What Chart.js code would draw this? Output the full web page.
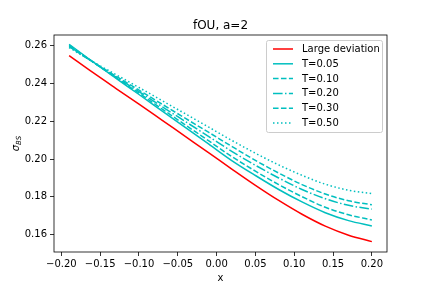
<!DOCTYPE html>
<html>
<head>
<meta charset="utf-8">
<script src="https://cdn.jsdelivr.net/npm/chart.js@4"></script>
<style>
  html, body { margin: 0; padding: 0; background: #fff; }
  #wrap { width: 432px; height: 288px; }
</style>
</head>
<body>
<div id="wrap"><canvas id="chart" width="432" height="288"></canvas></div>
<script>
// x grid (log-moneyness) and implied vol curves
const xValues = [-0.19, -0.16, -0.13, -0.10, -0.07, -0.04, -0.01, 0.02, 0.05, 0.08, 0.11, 0.14, 0.17, 0.20];
const largeDeviation = [0.2548, 0.2460, 0.2375, 0.2291, 0.2205, 0.2119, 0.2033, 0.1946, 0.1861, 0.1781, 0.1708, 0.1645, 0.1597, 0.1563];
const volT005 = [0.2608, 0.2517, 0.2429, 0.2342, 0.2254, 0.2166, 0.2079, 0.1991, 0.1913, 0.1839, 0.1773, 0.1716, 0.1674, 0.1646];
const volT010 = [0.2603, 0.2516, 0.2432, 0.2349, 0.2264, 0.2180, 0.2096, 0.2012, 0.1936, 0.1865, 0.1801, 0.1745, 0.1705, 0.1678];
const volT020 = [0.2598, 0.2515, 0.2435, 0.2357, 0.2277, 0.2198, 0.2119, 0.2040, 0.1967, 0.1900, 0.1839, 0.1790, 0.1755, 0.1735];
const volT030 = [0.2595, 0.2516, 0.2440, 0.2365, 0.2290, 0.2215, 0.2141, 0.2066, 0.1993, 0.1926, 0.1865, 0.1815, 0.1779, 0.1758];
const volT050 = [0.2590, 0.2517, 0.2448, 0.2379, 0.2309, 0.2239, 0.2169, 0.2098, 0.2031, 0.1969, 0.1914, 0.1867, 0.1835, 0.1817];

const xTickValues = [-0.20, -0.15, -0.10, -0.05, 0.00, 0.05, 0.10, 0.15, 0.20];
const yTickValues = [0.16, 0.18, 0.20, 0.22, 0.24, 0.26];

const FONT = 'DejaVu Sans';

function toPoints(ys) {
    return xValues.map((x, i) => ({ x: x, y: ys[i] }));
}

function fmt(v) {
    const s = Math.abs(v).toFixed(2);
    return v < -1e-9 ? '\u2212' + s : s;
}

function series(label, ys, color, dash) {
    return {
        label: label,
        data: toPoints(ys),
        borderColor: color,
        backgroundColor: color,
        borderWidth: 1.5,
        borderDash: dash,
        pointRadius: 0,
        cubicInterpolationMode: 'monotone',
        fill: false
    };
}

// axes box, title, y label with subscript, legend in upper right
const decorations = {
    id: 'decorations',
    afterDraw(chart) {
        const ctx = chart.ctx;
        const a = chart.chartArea;
        ctx.save();
        ctx.strokeStyle = '#000';
        ctx.lineWidth = 0.8;
        ctx.strokeRect(a.left, a.top, a.right - a.left, a.bottom - a.top);

        ctx.fillStyle = '#000';
        ctx.font = '12px "' + FONT + '"';
        ctx.textAlign = 'center';
        ctx.textBaseline = 'alphabetic';
        ctx.fillText('fOU, a=2', (a.left + a.right) / 2, a.top - 6);

        // y label: sigma with subscript BS, rotated
        ctx.save();
        ctx.translate(19, (a.top + a.bottom) / 2);
        ctx.rotate(-Math.PI / 2);
        ctx.font = 'italic 10px "' + FONT + '"';
        const w1 = ctx.measureText('\u03c3').width;
        ctx.font = 'italic 7px "' + FONT + '"';
        const w2 = ctx.measureText('BS').width;
        const x0 = -(w1 + w2) / 2;
        ctx.textAlign = 'left';
        ctx.font = 'italic 10px "' + FONT + '"';
        ctx.fillText('\u03c3', x0, 0);
        ctx.font = 'italic 7px "' + FONT + '"';
        ctx.fillText('BS', x0 + w1, 2);
        ctx.restore();

        // legend
        const bx = 266, by = 40, bw = 116, bh = 92;
        ctx.fillStyle = 'rgba(255,255,255,0.8)';
        ctx.strokeStyle = '#cccccc';
        ctx.lineWidth = 1;
        ctx.beginPath();
        ctx.roundRect(bx + 0.5, by + 0.5, bw, bh, 2);
        ctx.fill();
        ctx.stroke();
        ctx.font = '10px "' + FONT + '"';
        ctx.textBaseline = 'middle';
        ctx.textAlign = 'left';
        chart.data.datasets.forEach((ds, i) => {
            const y = 49 + i * 14.8;
            ctx.strokeStyle = ds.borderColor;
            ctx.lineWidth = ds.borderWidth;
            ctx.setLineDash(ds.borderDash || []);
            ctx.beginPath();
            ctx.moveTo(273, y);
            ctx.lineTo(293, y);
            ctx.stroke();
            ctx.setLineDash([]);
            ctx.fillStyle = '#000';
            ctx.fillText(ds.label, 302, y + 0.5);
        });
        ctx.restore();
    }
};

const ctx = document.getElementById('chart').getContext('2d');
new Chart(ctx, {
    type: 'line',
    data: {
        datasets: [
            series('Large deviation', largeDeviation, '#ff0000', []),
            series('T=0.05', volT005, '#00bfbf', []),
            series('T=0.10', volT010, '#00bfbf', [5.55, 2.4]),
            series('T=0.20', volT020, '#00bfbf', [9.6, 2.4, 1.5, 2.4]),
            series('T=0.30', volT030, '#00bfbf', [5.55, 2.4]),
            series('T=0.50', volT050, '#00bfbf', [1.5, 2.5])
        ]
    },
    options: {
        responsive: false,
        animation: false,
        devicePixelRatio: 1,
        layout: { padding: { top: 35, right: 45, left: 0, bottom: 0 } },
        plugins: {
            legend: { display: false },
            title: { display: false },
            tooltip: { enabled: false }
        },
        scales: {
            x: {
                type: 'linear',
                min: -0.2095,
                max: 0.2195,
                afterBuildTicks: axis => { axis.ticks = xTickValues.map(v => ({ value: v })); },
                afterFit: axis => { axis.height = 36; },
                grid: { display: true, drawOnChartArea: false, drawTicks: true, tickLength: 4, color: '#000', lineWidth: 0.8 },
                border: { display: false },
                ticks: {
                    color: '#000',
                    font: { family: FONT, size: 10 },
                    padding: 2,
                    maxRotation: 0,
                    autoSkip: false,
                    callback: v => fmt(v)
                },
                title: {
                    display: true,
                    text: 'x',
                    color: '#000',
                    font: { family: FONT, size: 10 },
                    padding: { top: 0, bottom: 4 }
                }
            },
            y: {
                type: 'linear',
                min: 0.1508,
                max: 0.2657,
                afterBuildTicks: axis => { axis.ticks = yTickValues.map(v => ({ value: v })); },
                afterFit: axis => { axis.width = 54; },
                grid: { display: true, drawOnChartArea: false, drawTicks: true, tickLength: 4, color: '#000', lineWidth: 0.8 },
                border: { display: false },
                ticks: {
                    color: '#000',
                    font: { family: FONT, size: 10 },
                    padding: 3,
                    autoSkip: false,
                    callback: v => fmt(v)
                }
            }
        }
    },
    plugins: [decorations]
});
</script>
</body>
</html>
